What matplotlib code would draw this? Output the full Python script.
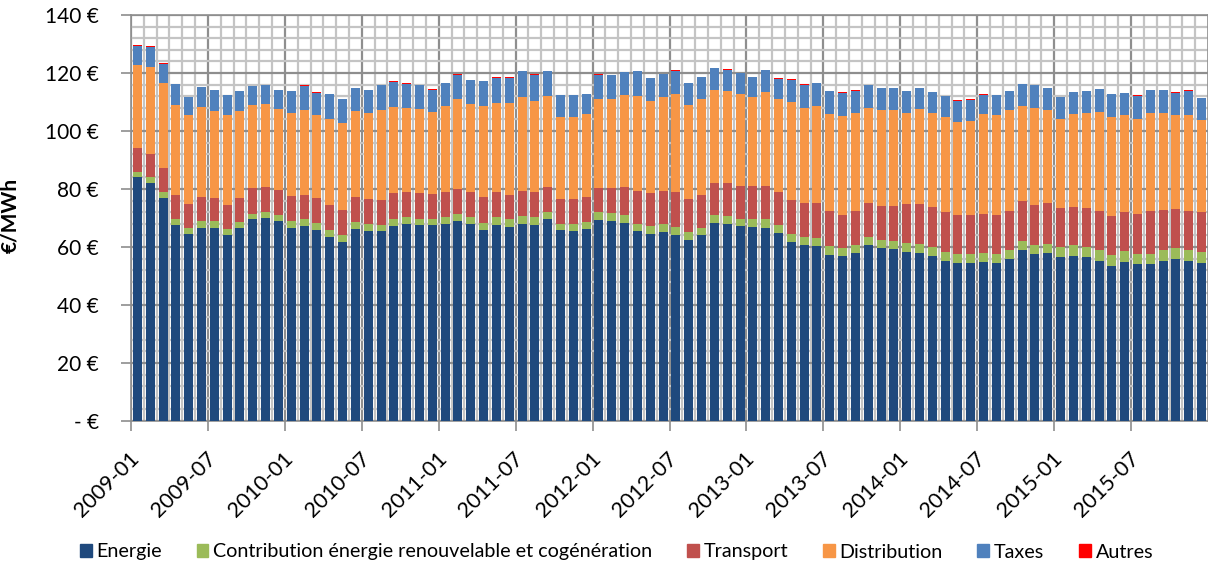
import numpy as np
import matplotlib.pyplot as plt
import matplotlib.transforms as mtrans
from matplotlib.patches import Patch

plt.rcParams['font.family'] = ['Lato', 'DejaVu Sans']

months = ['%d-%02d' % (y, m) for y in range(2009, 2016) for m in range(1, 13)]

energie = [84.0, 82.0, 77.0, 67.6, 64.5, 66.6, 66.7, 64.3, 66.6, 69.5, 70.1, 69.0,
           66.7, 67.3, 65.9, 63.5, 61.8, 66.3, 65.6, 65.5, 67.3, 68.0, 67.6, 67.6,
           67.8, 69.0, 67.9, 65.9, 67.6, 67.0, 68.0, 67.6, 69.7, 65.7, 65.6, 66.3,
           69.3, 69.0, 68.4, 65.5, 64.6, 65.2, 64.1, 62.5, 64.1, 68.3, 67.9, 67.2,
           67.0, 66.5, 64.8, 61.8, 60.6, 60.2, 57.3, 56.8, 57.9, 60.6, 59.6, 59.4,
           58.3, 58.1, 56.9, 55.3, 54.4, 54.4, 54.9, 54.4, 55.9, 59.0, 57.6, 58.1,
           56.6, 56.9, 56.7, 55.1, 53.5, 54.8, 54.0, 54.2, 55.2, 55.9, 55.2, 54.6]
contribution = [2.0, 2.0, 1.9, 2.0, 2.0, 2.2, 2.1, 1.8, 2.0, 1.9, 1.9, 2.0,
                2.2, 2.2, 2.3, 2.2, 2.2, 2.3, 2.3, 2.1, 2.2, 2.2, 2.2, 2.1,
                2.4, 2.4, 2.4, 2.5, 2.7, 2.6, 2.6, 2.7, 2.5, 2.4, 2.3, 2.4,
                2.6, 2.6, 2.8, 2.6, 2.7, 2.8, 2.7, 2.7, 2.6, 2.7, 2.7, 2.6,
                2.8, 3.1, 2.7, 2.8, 3.0, 3.0, 3.0, 3.0, 2.8, 2.8, 2.9, 2.8,
                3.1, 3.1, 3.1, 3.1, 3.3, 3.3, 3.2, 3.1, 3.2, 3.0, 3.1, 3.1,
                3.4, 3.7, 3.3, 3.8, 3.7, 3.9, 3.5, 3.5, 3.7, 3.6, 3.6, 3.7]
transport = [8.2, 8.1, 8.2, 8.4, 8.4, 8.4, 8.2, 8.4, 8.2, 8.8, 8.8, 8.6,
             8.7, 8.5, 8.8, 8.8, 8.7, 8.6, 8.6, 8.7, 9.0, 8.8, 8.8, 8.6,
             8.7, 8.7, 8.7, 8.8, 8.6, 8.5, 8.7, 8.6, 8.6, 8.6, 8.5, 8.6,
             8.5, 8.8, 9.6, 11.3, 11.3, 11.4, 12.3, 11.4, 11.4, 11.1, 11.4, 11.3,
             11.3, 11.5, 11.4, 11.7, 11.6, 12.1, 12.2, 11.4, 11.7, 11.8, 11.5, 12.0,
             13.3, 13.7, 13.7, 13.6, 13.5, 13.4, 13.3, 13.4, 13.4, 13.9, 13.9, 14.0,
             13.5, 13.3, 13.6, 13.6, 13.5, 13.5, 13.9, 14.8, 13.9, 13.7, 13.7, 13.6]
distribution = [28.4, 29.8, 29.3, 30.8, 30.6, 31.0, 30.0, 30.9, 30.1, 28.7, 28.5, 28.0,
                28.6, 29.1, 28.5, 29.8, 30.0, 29.7, 29.7, 30.9, 29.7, 29.1, 29.0, 28.3,
                29.6, 30.9, 30.3, 31.5, 30.8, 31.5, 32.3, 31.6, 31.2, 28.3, 28.4, 28.5,
                30.8, 30.7, 31.5, 32.5, 31.9, 32.3, 33.6, 32.3, 32.8, 32.2, 31.9, 31.5,
                30.6, 32.2, 32.0, 33.6, 32.8, 33.2, 33.3, 33.9, 33.7, 32.9, 33.3, 33.0,
                31.5, 32.8, 32.5, 32.7, 32.0, 32.2, 34.3, 34.5, 34.6, 32.7, 33.4, 32.2,
                30.6, 31.8, 32.7, 34.0, 34.0, 33.2, 32.8, 33.6, 33.3, 32.2, 32.9, 31.9]
taxes = [6.7, 7.2, 6.8, 7.3, 6.2, 7.0, 7.1, 6.9, 7.0, 6.5, 6.4, 6.6,
         7.6, 8.4, 7.6, 8.4, 8.3, 7.9, 7.9, 8.6, 8.8, 8.2, 8.2, 7.7,
         8.0, 8.4, 8.3, 8.5, 8.7, 8.8, 9.1, 8.9, 8.7, 7.3, 7.5, 6.9,
         8.1, 8.3, 8.1, 8.8, 7.8, 7.8, 8.1, 7.7, 7.7, 7.4, 7.3, 7.4,
         7.0, 7.7, 7.1, 7.7, 8.0, 8.1, 7.9, 8.0, 7.8, 7.6, 7.6, 7.5,
         7.5, 7.3, 7.1, 7.2, 7.3, 7.5, 6.7, 6.9, 6.7, 7.5, 7.8, 7.3,
         7.5, 7.8, 7.6, 8.1, 7.9, 7.7, 8.0, 8.0, 8.0, 7.7, 8.5, 7.7]
autres = [0.3, 0.3, 0.1, 0.0, 0.0, 0.0, 0.2, 0.1, 0.0, 0.2, 0.0, 0.1,
          0.0, 0.2, 0.2, 0.2, 0.1, 0.2, 0.0, 0.2, 0.1, 0.1, 0.0, 0.1,
          0.2, 0.4, 0.0, 0.2, 0.1, 0.2, 0.0, 0.3, 0.0, 0.0, 0.1, 0.2,
          0.2, 0.0, 0.0, 0.0, 0.0, 0.2, 0.2, 0.0, 0.0, 0.0, 0.1, 0.0,
          0.0, 0.0, 0.2, 0.2, 0.2, 0.0, 0.2, 0.2, 0.1, 0.0, 0.1, 0.0,
          0.0, 0.0, 0.0, 0.2, 0.1, 0.1, 0.2, 0.0, 0.0, 0.0, 0.2, 0.0,
          0.1, 0.0, 0.0, 0.0, 0.0, 0.0, 0.1, 0.0, 0.0, 0.2, 0.2, 0.0]

labels = ['Energie', 'Contribution énergie renouvelable et cogénération',
          'Transport', 'Distribution', 'Taxes', 'Autres']
colors = ['#1F497D', '#9BBB59', '#C0504D', '#F79646', '#4F81BD', '#FF0000']
series = [energie, contribution, transport, distribution, taxes, autres]

fig = plt.figure(figsize=(12.08, 5.64), dpi=100)
ax = fig.add_axes([131 / 1208, 1 - 421 / 564, 1077 / 1208, 406 / 564])

x = np.arange(len(months))
bottom = np.zeros(len(months))
for vals, lab, col in zip(series, labels, colors):
    ax.bar(x, vals, 0.7, bottom=bottom, color=col, label=lab, zorder=3)
    bottom += np.array(vals)

ax.set_xlim(-0.5, len(months) - 0.5)
ax.set_ylim(0, 140)

# grid
ax.set_yticks(np.arange(0, 141, 20))
ax.set_yticks(np.arange(0, 141, 4), minor=True)
ax.set_yticklabels(['- €'] + ['%d €' % v for v in range(20, 141, 20)])
major_x = np.arange(0, len(months), 6)
ax.set_xticks(major_x - 0.5)
ax.set_xticks(x - 0.5, minor=True)
ax.set_xticklabels([months[i] for i in major_x], rotation=45, ha='right',
                   va='center', rotation_mode='anchor')
ax.grid(which='minor', color='#c4c4c4', lw=1.6, zorder=0)
ax.grid(which='major', color='#8e8e8e', lw=1.6, zorder=0)
ax.set_axisbelow(True)

ax.tick_params(axis='y', which='major', labelsize=15, length=7,
               width=1.2, color='#8e8e8e', pad=16)
ax.tick_params(axis='x', which='major', labelsize=15.5, length=7,
               width=1.2, color='#8e8e8e', pad=18)
ax.tick_params(which='minor', length=0)
shift = mtrans.ScaledTranslation(3.5 / 72, 0, fig.dpi_scale_trans)
for t in ax.get_xticklabels():
    t.set_transform(t.get_transform() + shift)
for s in ax.spines.values():
    s.set_color('#8e8e8e')
    s.set_linewidth(1.2)

ax.set_ylabel('€/MWh', fontsize=15, fontweight='bold')
ax.yaxis.set_label_coords((20 - 131) / 1077, 0.507)

handles = [Patch(color=c) for c in colors]
fig.legend(handles, labels, loc='center', bbox_to_anchor=(0.5104, 1 - 552 / 564),
           ncol=6, frameon=False, fontsize=14.2, handlelength=0.6, handleheight=0.6,
           handletextpad=0.25, columnspacing=1.75)

fig.savefig('out.png', dpi=100)
